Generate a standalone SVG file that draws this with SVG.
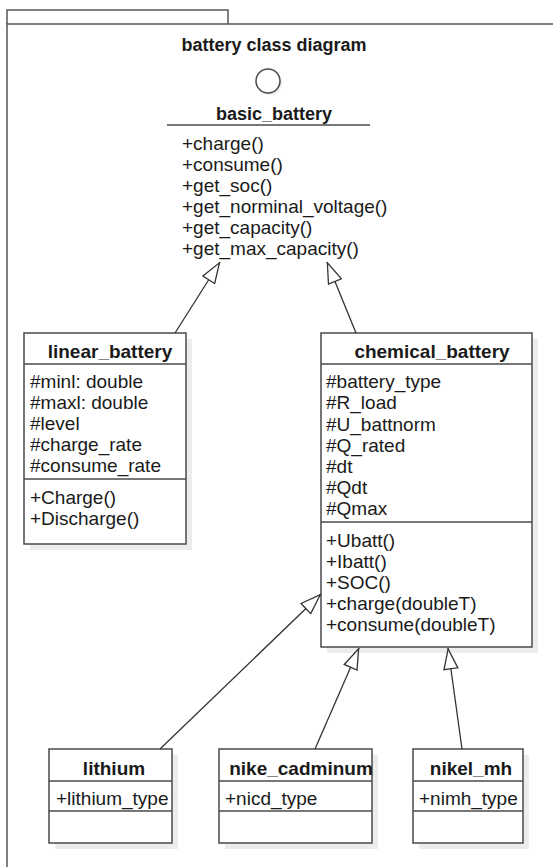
<svg xmlns="http://www.w3.org/2000/svg" width="553" height="867" viewBox="0 0 553 867">
<defs>
<style>
text{font-family:"Liberation Sans",Arial,sans-serif;font-size:19px;fill:#1a1a1a}
.b{font-weight:bold;text-anchor:middle}
.t{font-size:18px}
.box{fill:#fff;stroke:#4a4a4a;stroke-width:1.5}
.sh{fill:#ececec}
.div{stroke:#4a4a4a;stroke-width:1.5}
.frame{fill:none;stroke:#555;stroke-width:1.5}
.edge{stroke:#333;stroke-width:1.3;fill:none;marker-end:url(#tri)}
</style>
<marker id="tri" viewBox="0 0 22 16" refX="22" refY="8" markerWidth="22" markerHeight="16" markerUnits="userSpaceOnUse" orient="auto">
<path d="M1,1 L21,8 L1,15 Z" fill="#fff" stroke="#333" stroke-width="1.3"/>
</marker>
</defs>
<rect width="553" height="867" fill="#fff"/>
<g id="frame">
<path class="frame" d="M7,24 V10 H228 V24"/>
<path class="frame" d="M7,867 V24 H553"/>
<text class="b t" x="274" y="51">battery class diagram</text>
</g>
<g id="basic_battery">
<circle cx="270" cy="83" r="12" fill="#ececec"/>
<circle cx="268" cy="81" r="12" fill="#fff" stroke="#4a4a4a" stroke-width="1.5"/>
<text class="b t" x="274" y="120">basic_battery</text>
<line class="div" x1="167" y1="125" x2="370" y2="125"/>
<text x="182" y="150">+charge()</text>
<text x="182" y="171">+consume()</text>
<text x="182" y="192">+get_soc()</text>
<text x="182" y="213">+get_norminal_voltage()</text>
<text x="182" y="234">+get_capacity()</text>
<text x="182" y="255">+get_max_capacity()</text>
</g>
<g id="linear_battery">
<rect class="sh" x="30" y="339" width="162" height="211"/>
<rect class="box" x="24" y="333" width="162" height="211"/>
<line class="div" x1="24" y1="364" x2="186" y2="364"/>
<line class="div" x1="24" y1="479" x2="186" y2="479"/>
<text class="b" x="110" y="358">linear_battery</text>
<text x="30" y="388">#minl: double</text>
<text x="30" y="409">#maxl: double</text>
<text x="30" y="430">#level</text>
<text x="30" y="451">#charge_rate</text>
<text x="30" y="472">#consume_rate</text>
<text x="30" y="504">+Charge()</text>
<text x="30" y="525">+Discharge()</text>
</g>
<g id="chemical_battery">
<rect class="sh" x="327" y="339" width="211" height="314"/>
<rect class="box" x="321" y="333" width="211" height="314"/>
<line class="div" x1="321" y1="364" x2="532" y2="364"/>
<line class="div" x1="321" y1="522" x2="532" y2="522"/>
<text class="b" x="432" y="358">chemical_battery</text>
<text x="326" y="388">#battery_type</text>
<text x="326" y="409">#R_load</text>
<text x="326" y="431">#U_battnorm</text>
<text x="326" y="452">#Q_rated</text>
<text x="326" y="473">#dt</text>
<text x="326" y="494">#Qdt</text>
<text x="326" y="515">#Qmax</text>
<text x="326" y="547">+Ubatt()</text>
<text x="326" y="568">+Ibatt()</text>
<text x="326" y="589">+SOC()</text>
<text x="326" y="610">+charge(doubleT)</text>
<text x="326" y="631">+consume(doubleT)</text>
</g>
<g id="lithium">
<rect class="sh" x="55" y="755" width="123" height="94"/>
<rect class="box" x="49" y="749" width="123" height="94"/>
<line class="div" x1="49" y1="781" x2="172" y2="781"/>
<line class="div" x1="49" y1="811" x2="172" y2="811"/>
<text class="b" x="114" y="775">lithium</text>
<text x="56" y="805">+lithium_type</text>
</g>
<g id="nike_cadminum">
<rect class="sh" x="225" y="755" width="153" height="94"/>
<rect class="box" x="219" y="749" width="153" height="94"/>
<line class="div" x1="219" y1="781" x2="372" y2="781"/>
<line class="div" x1="219" y1="811" x2="372" y2="811"/>
<text class="b" x="301" y="775">nike_cadminum</text>
<text x="225" y="805">+nicd_type</text>
</g>
<g id="nikel_mh">
<rect class="sh" x="419" y="755" width="110" height="94"/>
<rect class="box" x="413" y="749" width="110" height="94"/>
<line class="div" x1="413" y1="781" x2="523" y2="781"/>
<line class="div" x1="413" y1="811" x2="523" y2="811"/>
<text class="b" x="471" y="775">nikel_mh</text>
<text x="419" y="805">+nimh_type</text>
</g>
<g id="connectors">
<line class="edge" x1="175" y1="333" x2="220" y2="262"/>
<line class="edge" x1="356" y1="333" x2="327" y2="262"/>
<line class="edge" x1="160" y1="749" x2="321" y2="594"/>
<line class="edge" x1="315" y1="749" x2="359" y2="648"/>
<line class="edge" x1="462" y1="749" x2="448" y2="648"/>
</g>
</svg>
